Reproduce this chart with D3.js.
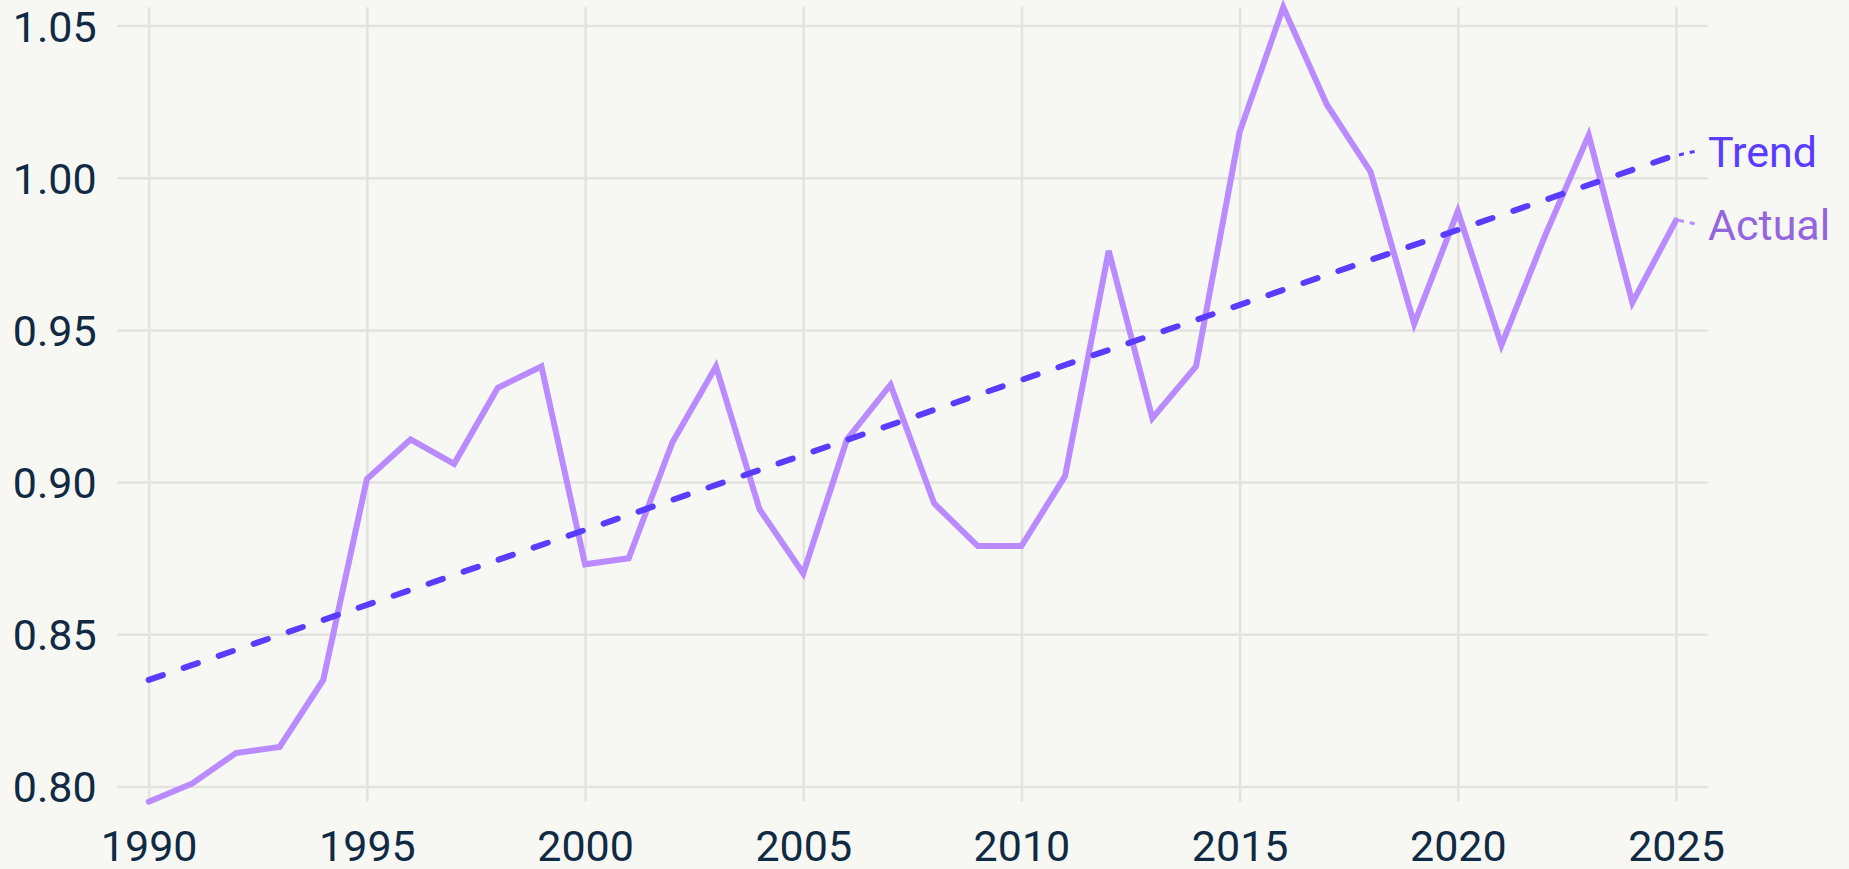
<!DOCTYPE html>
<html>
<head>
<meta charset="utf-8">
<script src="https://cdn.jsdelivr.net/npm/d3@7"></script>
<style>
  html, body { margin: 0; padding: 0; background: #f7f7f3; }
  svg { display: block; }
  text { font-family: Roboto, "Noto Sans", sans-serif; }
</style>
</head>
<body>
<svg id="chart" width="1849" height="869"></svg>
<script>
// ---- data ----
const years = [1990, 1991, 1992, 1993, 1994, 1995, 1996, 1997, 1998, 1999,
               2000, 2001, 2002, 2003, 2004, 2005, 2006, 2007, 2008, 2009,
               2010, 2011, 2012, 2013, 2014, 2015, 2016, 2017, 2018, 2019,
               2020, 2021, 2022, 2023, 2024, 2025];
const actual = [0.795, 0.801, 0.811, 0.813, 0.835, 0.901, 0.914, 0.906, 0.931, 0.938,
                0.873, 0.875, 0.913, 0.938, 0.891, 0.870, 0.914, 0.932, 0.893, 0.879,
                0.879, 0.902, 0.976, 0.921, 0.938, 1.015, 1.056, 1.024, 1.002, 0.952,
                0.989, 0.945, 0.981, 1.014, 0.959, 0.986];
const trendYears = [1990, 2025];
const trendValues = [0.835, 1.0075];
const xTickValues = [1990, 1995, 2000, 2005, 2010, 2015, 2020, 2025];
const yTickValues = [0.80, 0.85, 0.90, 0.95, 1.00, 1.05];
const seriesNames = ["Trend", "Actual"];

// ---- style ----
const C = {
  bg: "#f7f7f3", grid: "#e2e2df", text: "#102a43",
  trend: "#5a3cff", actual: "#b98bff", actualLabel: "#9466dd"
};

const svg = d3.select("#chart");
svg.append("rect").attr("width", 1849).attr("height", 869).attr("fill", C.bg);

const x = d3.scaleLinear().domain([years[0], years[years.length - 1]]).range([148.7, 1676]);
const y = d3.scaleLinear().domain(d3.extent(actual)).range([801.7, 7.3]);
const gridPad = 31.5;

// horizontal gridlines + y labels
const yAxis = d3.axisLeft(y).tickValues(yTickValues).tickFormat(d3.format(".2f"))
  .tickSize(-(x.range()[1] - x.range()[0] + 2 * gridPad)).tickPadding(20);
const gy = svg.append("g").attr("transform", `translate(${x.range()[0] - gridPad},0)`).call(yAxis);
gy.select(".domain").remove();
gy.selectAll(".tick line").attr("stroke", C.grid).attr("stroke-width", 2.5);
gy.selectAll(".tick text").attr("fill", C.text).attr("font-size", 43)
  .attr("dy", "0.36em").attr("x", -20.5);

// vertical gridlines + x labels
const xAxis = d3.axisBottom(x).tickValues(xTickValues).tickFormat(d3.format("d"))
  .tickSize(-(y.range()[0] - y.range()[1])).tickPadding(0);
const gx = svg.append("g").attr("transform", `translate(0,${y.range()[0]})`).call(xAxis);
gx.select(".domain").remove();
gx.selectAll(".tick line").attr("stroke", C.grid).attr("stroke-width", 2.5);
gx.selectAll(".tick text").attr("fill", C.text).attr("font-size", 43)
  .attr("y", 59).attr("dy", 0);

// actual line
const line = d3.line().x(d => x(d[0])).y(d => y(d[1]));
svg.append("path")
  .datum(years.map((yr, i) => [yr, actual[i]]))
  .attr("d", line)
  .attr("fill", "none").attr("stroke", C.actual).attr("stroke-width", 6)
  .attr("stroke-linecap", "round").attr("stroke-linejoin", "miter");

// trend line
svg.append("path")
  .datum(trendYears.map((yr, i) => [yr, trendValues[i]]))
  .attr("d", line)
  .attr("fill", "none").attr("stroke", C.trend).attr("stroke-width", 6)
  .attr("stroke-linecap", "round").attr("stroke-dasharray", "15 22");

// end labels
const ends = [
  { name: seriesNames[0], v: trendValues[trendValues.length - 1], stroke: C.trend, fill: C.trend },
  { name: seriesNames[1], v: actual[actual.length - 1], stroke: C.actual, fill: C.actualLabel }
];
ends.forEach(e => { e.y0 = y(e.v); e.ly = e.y0; });
const minGap = 73;
const gap = ends[1].ly - ends[0].ly;
if (gap < minGap) {
  const d = (minGap - gap) / 2;
  ends[0].ly -= d; ends[1].ly += d;
}
const xEnd = x(years[years.length - 1]);
const labelX = xEnd + 32;
ends.forEach(e => {
  svg.append("line")
    .attr("x1", xEnd + 3).attr("y1", e.y0)
    .attr("x2", labelX - 12).attr("y2", e.ly)
    .attr("stroke", e.stroke).attr("stroke-width", 3)
    .attr("stroke-dasharray", "5 6");
  svg.append("text")
    .attr("x", labelX).attr("y", e.ly).attr("dy", "0.36em")
    .attr("fill", e.fill).attr("font-size", 43).text(e.name);
});
</script>
</body>
</html>
